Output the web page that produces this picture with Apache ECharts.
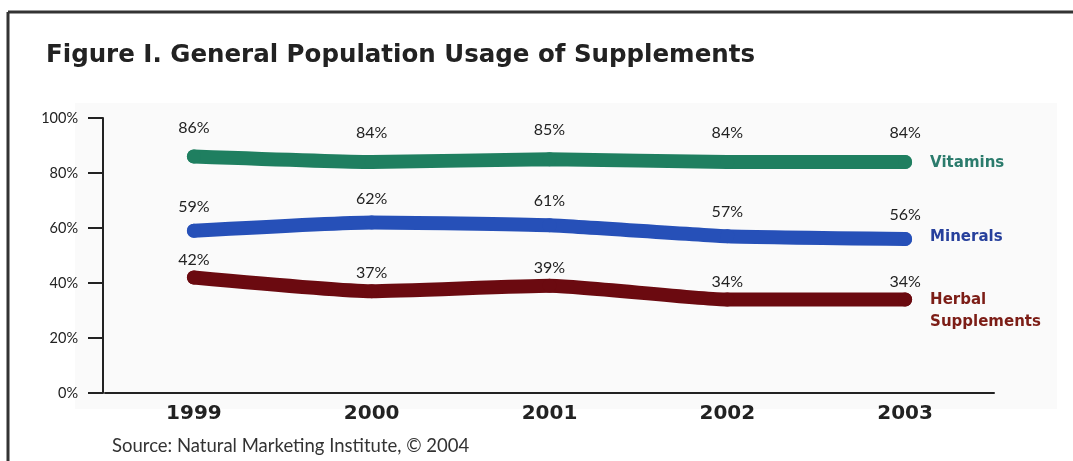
<!DOCTYPE html>
<html>
<head>
<meta charset="utf-8">
<script src="https://cdn.jsdelivr.net/npm/echarts@6/dist/echarts.min.js"></script>
<style>
  html, body { margin: 0; padding: 0; background: #fff; }
  #chart { width: 1073px; height: 461px; }
</style>
</head>
<body>
<div id="chart"></div>
<script>
"use strict";

/* ---------- data ---------- */
const years = ["1999", "2000", "2001", "2002", "2003"];
const vitamins = [86, 84, 85, 84, 84];
const minerals = [59, 62, 61, 57, 56];
const herbal = [42, 37, 39, 34, 34];
const yTicks = [0, 100, 20];   // min, max, interval

/* ---------- colours, fonts ---------- */
const C = {
    green: "#1f7f60", blue: "#2650b8", maroon: "#6b0a10",
    greenTxt: "#2b7b6c", blueTxt: "#27409c", maroonTxt: "#7c1d16",
    ink: "#222", soft: "#333"
};
const FONT = 'Lato, "Open Sans", sans-serif';
const BOLD = '"DejaVu Sans", sans-serif';

function lineSeries(name, data, color, labelColor, labelDist, endOffset) {
    return {
        name: name, type: "line", data: data,
        smooth: 0.15,
        symbol: "circle", symbolSize: 14,
        itemStyle: { color: color },
        lineStyle: { width: 14, color: color, cap: "round", join: "round" },
        label: {
            show: true, position: "top", distance: labelDist,
            formatter: "{c}%", fontFamily: FONT, fontSize: 16, color: C.ink
        },
        endLabel: {
            show: true, distance: 25, offset: endOffset,
            formatter: p => p.seriesName,
            fontFamily: BOLD, fontSize: 15, fontWeight: "bold",
            lineHeight: 22, color: labelColor
        },
        emphasis: { disabled: true }
    };
}

const chart = echarts.init(document.getElementById("chart"));
chart.setOption({
    animation: false,
    textStyle: { fontFamily: FONT },
    title: [
        {
            text: "Figure I. General Population Usage of Supplements",
            left: 41, top: 38,
            textStyle: { fontFamily: BOLD, fontSize: 24.5, fontWeight: "bold", color: C.ink }
        },
        {
            text: "Source: Natural Marketing Institute, © 2004",
            left: 107, top: 432,
            textStyle: { fontFamily: FONT, fontSize: 18.5, fontWeight: "normal", color: C.soft }
        }
    ],
    graphic: [
        // faint plot panel + page frame
        { type: "rect", z: -10, shape: { x: 75, y: 103, width: 982, height: 306 },
          style: { fill: "#fafafa" } },
        { type: "line", shape: { x1: 8, y1: 12, x2: 1073, y2: 12 },
          style: { stroke: C.soft, lineWidth: 3 } },
        { type: "line", shape: { x1: 8, y1: 12, x2: 8, y2: 461 },
          style: { stroke: C.soft, lineWidth: 3 } }
    ],
    grid: { left: 105, right: 79, top: 118, bottom: 68 },
    xAxis: {
        type: "category", data: years, boundaryGap: true,
        axisLine: { lineStyle: { color: C.ink, width: 2 } },
        axisTick: { show: false },
        axisLabel: {
            margin: 11, fontFamily: BOLD,
            fontSize: 20, fontWeight: "bold", color: C.ink
        }
    },
    yAxis: {
        type: "value", min: yTicks[0], max: yTicks[1], interval: yTicks[2],
        offset: 2,
        axisLine: { show: true, lineStyle: { color: C.ink, width: 2 } },
        axisTick: { show: true, length: 15, lineStyle: { color: C.ink, width: 2 } },
        splitLine: { show: false },
        axisLabel: { margin: 25, formatter: "{value}%", fontFamily: FONT, fontSize: 14.5, color: C.ink }
    },
    series: [
        lineSeries("Vitamins", vitamins, C.green, C.greenTxt, 14, [0, 1]),
        lineSeries("Minerals", minerals, C.blue, C.blueTxt, 9, [0, -2]),
        lineSeries("Herbal\nSupplements", herbal, C.maroon, C.maroonTxt, 3, [0, 12])
    ]
});
</script>
</body>
</html>
